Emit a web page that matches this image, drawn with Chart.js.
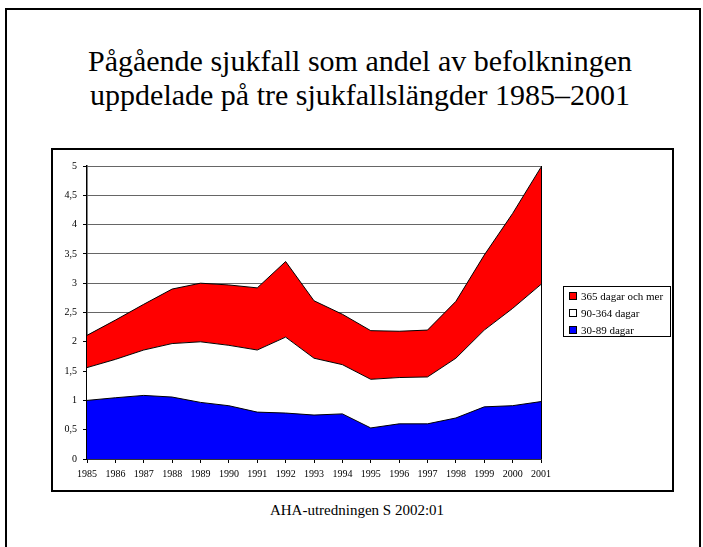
<!DOCTYPE html>
<html lang="sv">
<head>
<meta charset="utf-8">
<title>Pågående sjukfall 1985–2001</title>
<script src="https://cdn.jsdelivr.net/npm/chart.js@4.4.0/dist/chart.umd.min.js"></script>
<style>
  html, body { margin: 0; padding: 0; background: #fff; }
  body { width: 703px; height: 547px; position: relative; overflow: hidden; font-family: "Liberation Serif", "Times New Roman", serif; color: #000; }
  #slide { position: absolute; left: 5px; top: 8px; width: 692px; height: 560px; border: 2px solid #000; }
  #title { position: absolute; left: 0; width: 720px; top: 44px; text-align: center; font-size: 30px; line-height: 34px; }
  #box { position: absolute; left: 51px; top: 148px; width: 619px; height: 340px; border: 2px solid #000; }
  #compoundArea { position: absolute; left: 53px; top: 150px; }
  #legend { position: absolute; left: 563px; top: 286px; width: 106px; height: 49px; border: 1px solid #000; font-size: 11px; }
  #legend div { position: absolute; left: 5px; height: 14px; line-height: 14px; white-space: nowrap; }
  #legend span { display: inline-block; width: 6px; height: 6px; border: 1px solid #000; margin-right: 4px; vertical-align: 0px; }
  #caption { position: absolute; left: 0; width: 714px; top: 502px; text-align: center; font-size: 15px; }
</style>
</head>
<body>
<div id="slide"></div>
<div id="title">Pågående sjukfall som andel av befolkningen<br>uppdelade på tre sjukfallslängder 1985–2001</div>
<div id="box"></div>
<canvas id="compoundArea" width="619" height="340"></canvas>
<div id="legend"></div>
<div id="caption">AHA-utredningen S 2002:01</div>
<script>
const years = ["1985", "1986", "1987", "1988", "1989", "1990", "1991", "1992", "1993",
  "1994", "1995", "1996", "1997", "1998", "1999", "2000", "2001"];

// andel av befolkningen, per sjukfallslängd (staplade)
const dagar30_89 = [1.00, 1.045, 1.085, 1.057, 0.966, 0.909, 0.80, 0.784, 0.75,
  0.77, 0.53, 0.60, 0.60, 0.70, 0.89, 0.91, 0.98];
const dagar90_364 = [0.56, 0.655, 0.775, 0.913, 1.034, 1.031, 1.06, 1.296, 0.97,
  0.84, 0.83, 0.79, 0.80, 1.02, 1.31, 1.66, 2.00];
const dagar365plus = [0.55, 0.67, 0.78, 0.93, 1.00, 1.03, 1.06, 1.29, 0.98,
  0.86, 0.83, 0.79, 0.80, 0.97, 1.28, 1.62, 2.00];

const seriesLabels = ["30-89 dagar", "90-364 dagar", "365 dagar och mer"];
const yTicks = [0, 0.5, 1, 1.5, 2, 2.5, 3, 3.5, 4, 4.5, 5];

const serif = "'Liberation Serif', 'Times New Roman', serif";

function area(label, data, color, fill) {
  return {
    label, data, fill,
    backgroundColor: color,
    borderColor: "#000",
    borderWidth: 1,
    pointRadius: 0,
    tension: 0
  };
}

const ctx = document.getElementById("compoundArea").getContext("2d");
const lastIdx = years.length - 1;

const chart = new Chart(ctx, {
  type: "line",
  data: {
    labels: years,
    datasets: [
      area(seriesLabels[0], dagar30_89, "#0000FF", "origin"),
      area(seriesLabels[1], dagar90_364, "#FFFFFF", "-1"),
      area(seriesLabels[2], dagar365plus, "#FF0000", "-1")
    ]
  },
  options: {
    responsive: false,
    animation: false,
    devicePixelRatio: 1,
    layout: { padding: { top: 16, right: 131, bottom: 0, left: 0 } },
    plugins: {
      legend: { display: false },
      tooltip: { enabled: false }
    },
    scales: {
      x: {
        z: 1,
        offset: false,
        grid: {
          drawOnChartArea: true,
          color: (c) => c.index === lastIdx ? "#000" : "rgba(0,0,0,0)",
          tickColor: "#000",
          tickLength: 4,
          lineWidth: 1
        },
        border: { display: true, color: "#000", width: 1.5 },
        ticks: {
          color: "#000",
          font: { family: serif, size: 10 },
          padding: 5,
          maxRotation: 0,
          autoSkip: false
        },
        afterFit: (scale) => { scale.height = 31; }
      },
      y: {
        stacked: true,
        min: 0,
        max: 5,
        afterBuildTicks: (scale) => { scale.ticks = yTicks.map(v => ({ value: v })); },
        grid: {
          color: "#666",
          tickColor: "#000",
          tickLength: 4,
          lineWidth: 1
        },
        border: { display: true, color: "#000", width: 1.5 },
        ticks: {
          color: "#000",
          font: { family: serif, size: 10 },
          padding: 6,
          callback: (v) => String(v).replace(".", ",")
        },
        afterFit: (scale) => { scale.width = 34; }
      }
    }
  }
});

// legend in reverse stacking order, top = 365 dagar och mer
const legendEl = document.getElementById("legend");
const colors = chart.data.datasets.map(d => d.backgroundColor);
[2, 1, 0].forEach((i, row) => {
  const item = document.createElement("div");
  item.style.top = (2 + row * 17) + "px";
  const sw = document.createElement("span");
  sw.style.background = colors[i];
  item.appendChild(sw);
  item.appendChild(document.createTextNode(seriesLabels[i]));
  legendEl.appendChild(item);
});
</script>
</body>
</html>
